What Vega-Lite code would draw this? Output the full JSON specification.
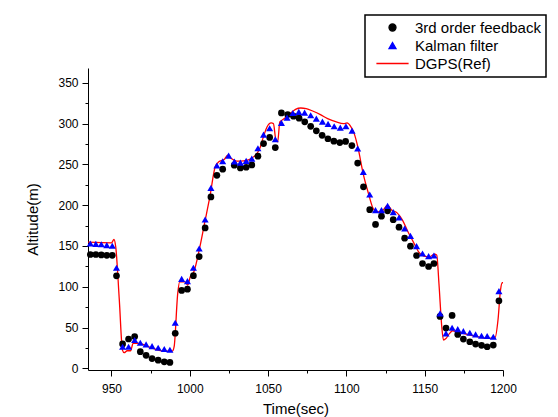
{
  "$schema": "https://vega.github.io/schema/vega-lite/v6.json",
  "autosize": {"type": "none"},
  "width": 415,
  "height": 302,
  "padding": {"left": 88, "top": 68, "right": 55, "bottom": 47},
  "background": "white",
  "config": {
    "view": {"stroke": null},
    "font": "Liberation Sans",
    "axis": {
      "domainColor": "black",
      "domainWidth": 1,
      "tickColor": "black",
      "tickWidth": 1,
      "grid": false,
      "labelFont": "Liberation Sans",
      "labelFontSize": 12,
      "labelColor": "black",
      "titleFont": "Liberation Sans",
      "titleFontSize": 15,
      "titleFontWeight": "normal",
      "titleColor": "black"
    },
    "legend": {
      "labelFont": "Liberation Sans",
      "labelFontSize": 15,
      "labelColor": "black"
    }
  },
  "datasets": {
    "fb": [
      {"t": 936.5, "v": 139.5}, {"t": 940, "v": 139.5}, {"t": 943.5, "v": 139}, {"t": 947, "v": 138.5}, {"t": 950.5, "v": 138.5},
      {"t": 953.2, "v": 113.4}, {"t": 957.1, "v": 30}, {"t": 960.9, "v": 36}, {"t": 964.8, "v": 39}, {"t": 968.4, "v": 20.5},
      {"t": 972.1, "v": 16}, {"t": 975.9, "v": 12}, {"t": 979.8, "v": 10}, {"t": 983.7, "v": 8}, {"t": 987.3, "v": 7.3},
      {"t": 990.7, "v": 43}, {"t": 994.8, "v": 95.5}, {"t": 998.5, "v": 97}, {"t": 1002.3, "v": 113.5}, {"t": 1006, "v": 137},
      {"t": 1009.8, "v": 172}, {"t": 1013.5, "v": 210}, {"t": 1017.3, "v": 236.5}, {"t": 1021, "v": 244}, {"t": 1028.4, "v": 249},
      {"t": 1032.3, "v": 245.6}, {"t": 1036, "v": 246.4}, {"t": 1039.6, "v": 249.3}, {"t": 1043.5, "v": 260}, {"t": 1047.1, "v": 275.4},
      {"t": 1051, "v": 283}, {"t": 1054.6, "v": 270.5}, {"t": 1058.5, "v": 313}, {"t": 1062.5, "v": 311}, {"t": 1066.2, "v": 309},
      {"t": 1069.8, "v": 306.5}, {"t": 1073.4, "v": 302}, {"t": 1077.2, "v": 296.5}, {"t": 1080.8, "v": 291}, {"t": 1084.5, "v": 285.5},
      {"t": 1088.2, "v": 281.3}, {"t": 1092, "v": 278.4}, {"t": 1095.8, "v": 276.6}, {"t": 1099.5, "v": 278}, {"t": 1103.5, "v": 273},
      {"t": 1107.2, "v": 251.5}, {"t": 1110.9, "v": 222.4}, {"t": 1114.9, "v": 194.4}, {"t": 1118.6, "v": 176.3}, {"t": 1122.4, "v": 186.5},
      {"t": 1126.3, "v": 193}, {"t": 1129.9, "v": 182.2}, {"t": 1133.6, "v": 173}, {"t": 1137.2, "v": 159.5}, {"t": 1140.9, "v": 149.7},
      {"t": 1144.8, "v": 138.3}, {"t": 1148.6, "v": 128.5}, {"t": 1152.5, "v": 124.8}, {"t": 1155.9, "v": 128.5}, {"t": 1159.8, "v": 63.6},
      {"t": 1163.6, "v": 49.4}, {"t": 1167.5, "v": 64.9}, {"t": 1171.1, "v": 41.6}, {"t": 1174.7, "v": 35.9}, {"t": 1178.8, "v": 32.6},
      {"t": 1182.5, "v": 29.8}, {"t": 1186.3, "v": 28.2}, {"t": 1189.9, "v": 26.5}, {"t": 1193.8, "v": 28.6}, {"t": 1197.4, "v": 82.8}
    ],
    "kf": [
      {"t": 936.5, "v": 153}, {"t": 940, "v": 152.5}, {"t": 943.5, "v": 152}, {"t": 947, "v": 151}, {"t": 950.5, "v": 150.2},
      {"t": 953.2, "v": 123.2}, {"t": 957.1, "v": 26.5}, {"t": 960.9, "v": 26.5}, {"t": 964.8, "v": 34.7}, {"t": 968.4, "v": 31.4},
      {"t": 972.1, "v": 29.4}, {"t": 975.9, "v": 27.3}, {"t": 979.8, "v": 25.3}, {"t": 983.7, "v": 23.7}, {"t": 987.3, "v": 22.8},
      {"t": 990.7, "v": 55.9}, {"t": 994.8, "v": 109.7}, {"t": 998.5, "v": 106.9}, {"t": 1002.3, "v": 123.2}, {"t": 1006, "v": 146.9},
      {"t": 1009.8, "v": 182.4}, {"t": 1013.5, "v": 221.1}, {"t": 1017.3, "v": 248.5}, {"t": 1021, "v": 253.8}, {"t": 1024.8, "v": 260.7},
      {"t": 1028.5, "v": 253.4}, {"t": 1032.3, "v": 252.1}, {"t": 1036, "v": 254.2}, {"t": 1039.6, "v": 257}, {"t": 1043.5, "v": 269.7},
      {"t": 1047.1, "v": 286.4}, {"t": 1051, "v": 294.2}, {"t": 1054.6, "v": 280.7}, {"t": 1058.5, "v": 300.7}, {"t": 1062.1, "v": 307.2},
      {"t": 1065.8, "v": 312.9}, {"t": 1069.6, "v": 314.2}, {"t": 1073.3, "v": 313.3}, {"t": 1077.2, "v": 310.1}, {"t": 1080.8, "v": 306},
      {"t": 1084.7, "v": 302.3}, {"t": 1088.3, "v": 299.5}, {"t": 1092.2, "v": 296.6}, {"t": 1096.1, "v": 295}, {"t": 1099.7, "v": 296.6},
      {"t": 1103.6, "v": 291.3}, {"t": 1107.2, "v": 269.3}, {"t": 1110.8, "v": 240.7}, {"t": 1114.9, "v": 213}, {"t": 1118.6, "v": 193.8},
      {"t": 1122.4, "v": 193.8}, {"t": 1126.3, "v": 199.1}, {"t": 1129.9, "v": 191.4}, {"t": 1133.6, "v": 184.8}, {"t": 1137.2, "v": 171.4},
      {"t": 1140.9, "v": 162.4}, {"t": 1144.8, "v": 149.7}, {"t": 1148.6, "v": 140.8}, {"t": 1152.5, "v": 137.5}, {"t": 1155.9, "v": 138.3},
      {"t": 1159.8, "v": 67.3}, {"t": 1163.6, "v": 42.8}, {"t": 1167.5, "v": 49.8}, {"t": 1171.1, "v": 48.1}, {"t": 1174.7, "v": 45.7},
      {"t": 1178.8, "v": 43.7}, {"t": 1182.5, "v": 41.6}, {"t": 1186.3, "v": 40}, {"t": 1189.9, "v": 39.6}, {"t": 1193.8, "v": 38.8},
      {"t": 1197.4, "v": 94.7}
    ],
    "dgps": [
      {"t": 935, "v": 154.6}, {"t": 950, "v": 153.8}, {"t": 951.6, "v": 157.9}, {"t": 952.7, "v": 149}, {"t": 955, "v": 83.6},
      {"t": 957, "v": 22.4}, {"t": 958.1, "v": 19.2}, {"t": 960, "v": 21.6}, {"t": 962.2, "v": 21.6}, {"t": 963.8, "v": 30.6},
      {"t": 967.2, "v": 30.6}, {"t": 976.3, "v": 24.5}, {"t": 983.2, "v": 21.2}, {"t": 988.9, "v": 21.2}, {"t": 990, "v": 26.5},
      {"t": 992.3, "v": 91.8}, {"t": 993.5, "v": 106}, {"t": 996.9, "v": 106}, {"t": 998.7, "v": 102}, {"t": 1000.3, "v": 112.2},
      {"t": 1002.6, "v": 118.3}, {"t": 1006, "v": 145}, {"t": 1009.4, "v": 177.5}, {"t": 1012.8, "v": 210}, {"t": 1016.2, "v": 246.8},
      {"t": 1018.5, "v": 253}, {"t": 1021.9, "v": 255.8}, {"t": 1024.2, "v": 261.1}, {"t": 1026.5, "v": 257}, {"t": 1029.9, "v": 253.8},
      {"t": 1034.4, "v": 254.2}, {"t": 1037.9, "v": 255.8}, {"t": 1041.3, "v": 260}, {"t": 1044.7, "v": 269.3}, {"t": 1047, "v": 283.6},
      {"t": 1049.3, "v": 295.8}, {"t": 1052, "v": 300.7}, {"t": 1053.4, "v": 299.9}, {"t": 1055, "v": 279.5}, {"t": 1056.1, "v": 277.4},
      {"t": 1057.5, "v": 301.9}, {"t": 1059.5, "v": 304.8}, {"t": 1062.9, "v": 310.1}, {"t": 1067.5, "v": 317.4}, {"t": 1070.9, "v": 319},
      {"t": 1074.3, "v": 318.2}, {"t": 1078.8, "v": 315}, {"t": 1083.4, "v": 310.9}, {"t": 1088, "v": 306}, {"t": 1093.6, "v": 301.9},
      {"t": 1098.2, "v": 299.9}, {"t": 1100.4, "v": 300.7}, {"t": 1102.7, "v": 296.6}, {"t": 1105, "v": 287.6}, {"t": 1107.3, "v": 271.3},
      {"t": 1110.7, "v": 238.7}, {"t": 1114.1, "v": 214.2}, {"t": 1117.1, "v": 195.8}, {"t": 1119.8, "v": 191.8}, {"t": 1123.3, "v": 193.8},
      {"t": 1126.2, "v": 199.9}, {"t": 1129, "v": 193.8}, {"t": 1132.4, "v": 190.5}, {"t": 1135.8, "v": 181.6}, {"t": 1139.3, "v": 167.3},
      {"t": 1142.7, "v": 155}, {"t": 1146.1, "v": 142.8}, {"t": 1149.5, "v": 137.5}, {"t": 1152.9, "v": 136.7}, {"t": 1156.4, "v": 140},
      {"t": 1157.7, "v": 138.7}, {"t": 1159.1, "v": 104}, {"t": 1160.9, "v": 51}, {"t": 1162, "v": 34.7}, {"t": 1163.6, "v": 36.7},
      {"t": 1165.9, "v": 42.8}, {"t": 1167.7, "v": 46.1}, {"t": 1174.5, "v": 42.8}, {"t": 1183.6, "v": 38.8}, {"t": 1190.4, "v": 36.7},
      {"t": 1195, "v": 37.9}, {"t": 1196.8, "v": 59.2}, {"t": 1198.4, "v": 95.9}, {"t": 1199.5, "v": 104.9}, {"t": 1200, "v": 104.9}
    ]
  },
  "encoding": {
    "x": {
      "field": "t", "type": "quantitative",
      "scale": {"domain": [935, 1200], "nice": false, "zero": false},
      "axis": {
        "title": "Time(sec)",
        "format": "d",
        "values": [950, 975, 1000, 1025, 1050, 1075, 1100, 1125, 1150, 1175, 1200],
        "labelExpr": "datum.value % 50 == 0 ? datum.label : ''",
        "tickSize": {"condition": {"test": "datum.value % 50 != 0", "value": 3}, "value": 6},
        "labelPadding": 7,
        "titlePadding": 7,
        "labelFlush": false,
        "labelOverlap": false
      }
    },
    "y": {
      "field": "v", "type": "quantitative",
      "scale": {"domain": [-2, 368], "nice": false, "zero": false},
      "axis": {
        "title": "Altitude(m)",
        "format": "d",
        "values": [0, 25, 50, 75, 100, 125, 150, 175, 200, 225, 250, 275, 300, 325, 350],
        "labelExpr": "datum.value % 50 == 0 ? datum.label : ''",
        "tickSize": {"condition": {"test": "datum.value % 50 != 0", "value": 3}, "value": 6},
        "labelPadding": 4,
        "titlePadding": 17,
        "labelOverlap": false
      }
    },
    "color": {
      "field": "series", "type": "nominal",
      "scale": {"domain": ["3rd order feedback", "Kalman filter", "DGPS(Ref)"], "range": ["#000000", "#0000ff", "#ff0000"]},
      "legend": {
        "title": null,
        "orient": "none",
        "legendX": 277,
        "legendY": -53,
        "padding": 5,
        "strokeColor": "black",
        "fillColor": "white",
        "symbolSize": 49,
        "symbolOffset": 15,
        "labelOffset": 15,
        "rowPadding": 2,
        "encode": {
          "legend": {
            "update": {"strokeWidth": {"value": 1.5}}
          },
          "symbols": {
            "update": {
              "shape": {"scale": "shape", "field": "value"},
              "fill": {"signal": "datum.value === 'DGPS(Ref)' ? 'transparent' : scale('color', datum.value)"},
              "stroke": {"signal": "datum.value === 'DGPS(Ref)' ? '#ff0000' : 'transparent'"},
              "strokeWidth": {"value": 1.3},
              "opacity": {"value": 1}
            }
          }
        }
      }
    }
  },
  "layer": [
    {
      "data": {"name": "dgps"},
      "transform": [{"calculate": "'DGPS(Ref)'", "as": "series"}],
      "mark": {"type": "line", "strokeWidth": 1.3, "interpolate": "monotone"}
    },
    {
      "data": {"name": "fb"},
      "transform": [{"calculate": "'3rd order feedback'", "as": "series"}],
      "mark": {"type": "point", "filled": true, "opacity": 1, "size": 45},
      "encoding": {
        "shape": {
          "field": "series", "type": "nominal",
          "scale": {"domain": ["3rd order feedback", "Kalman filter", "DGPS(Ref)"], "range": ["circle", "triangle-up", "M-4.6,0H4.6"]},
          "legend": null
        }
      }
    },
    {
      "data": {"name": "kf"},
      "transform": [{"calculate": "'Kalman filter'", "as": "series"}],
      "mark": {"type": "point", "filled": true, "opacity": 1, "size": 50},
      "encoding": {
        "shape": {
          "field": "series", "type": "nominal",
          "scale": {"domain": ["3rd order feedback", "Kalman filter", "DGPS(Ref)"], "range": ["circle", "triangle-up", "M-4.6,0H4.6"]},
          "legend": null
        }
      }
    }
  ]
}
